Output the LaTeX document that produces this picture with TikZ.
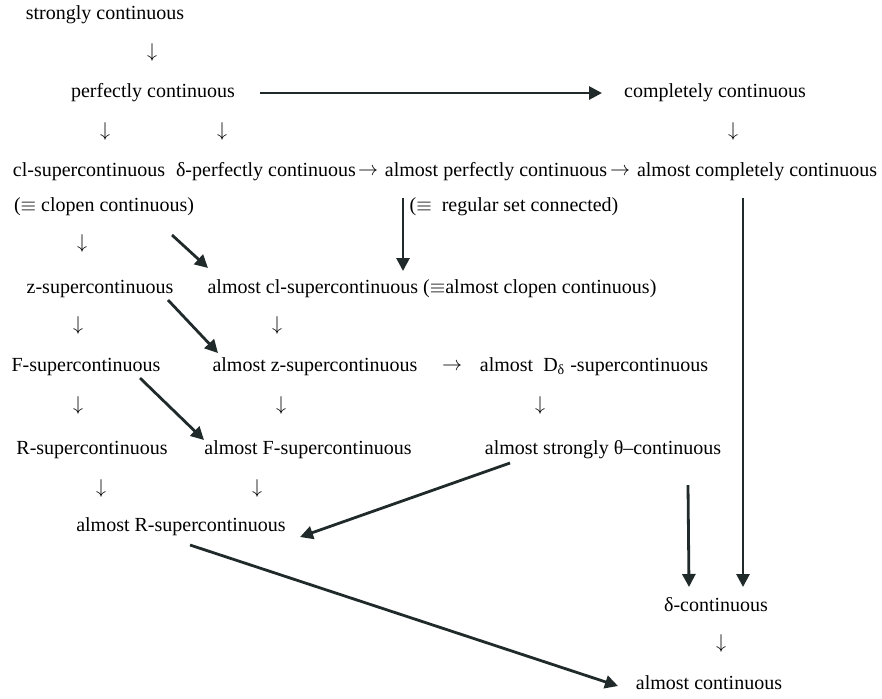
\documentclass[tikz,border=0pt]{standalone}
\usepackage{fontspec}
\setmainfont{Liberation Serif}
\usetikzlibrary{arrows.meta, positioning, calc}
\definecolor{darkslate}{RGB}{32,42,42}

\begin{document}
\begin{tikzpicture}[x=0.5pt, y=-0.5pt,
      lbl/.style={inner sep=1pt, font=\fontsize{10}{12}\selectfont},
      tip/.style={inner sep=0pt, font=\fontsize{10}{12}\selectfont},
      arr/.style={-{Triangle[length=6.5pt, width=6.5pt]}, line width=1.4pt, darkslate}]
    \useasboundingbox (0,0) rectangle (882,698);
    % rows of the diagram
    \node[lbl] (sc) at (105,15) {strongly continuous};
    \node[lbl] (pc) at (153,93) {perfectly continuous}; \node[lbl] (cc) at (715,93) {completely continuous};
    \node[lbl] (clsc) at (89,172) {cl-supercontinuous}; \node[lbl] (dpc) at (266,172) {δ-perfectly continuous};
    \node[lbl] (apc) at (496,172) {almost perfectly continuous}; \node[lbl] (acc) at (757,172) {almost completely continuous};
    \node[lbl] (clop) at (104,207) {($\equiv$ clopen continuous)}; \node[lbl] (rsc) at (514,207) {($\equiv$~ regular set connected)};
    \node[lbl] (zsc) at (100,289) {z-supercontinuous}; \node[lbl] (acl) at (432,289) {almost cl-supercontinuous ($\equiv$almost clopen continuous)};
    \node[lbl] (fsc) at (86,367) {F-supercontinuous}; \node[lbl] (azsc) at (315,367) {almost z-supercontinuous};
    \node[lbl] (adsc) at (594,367) {almost~ D\textsubscript{δ} -supercontinuous};
    \node[lbl] (rsc2) at (92,450) {R-supercontinuous}; \node[lbl] (afsc) at (308,450) {almost F-supercontinuous};
    \node[lbl] (ast) at (603,450) {almost strongly θ–continuous};
    \node[lbl] (arsc) at (181,527) {almost R-supercontinuous};
    \node[lbl] (dc) at (716,605) {δ-continuous};
    \node[lbl] (ac) at (709,683) {almost continuous};
    % small arrows set as glyphs
    \node[tip] (v1) at (152,52) {$\downarrow$};
    \node[tip] (v2) at (105,131) {$\downarrow$}; \node[tip] (v3) at (222,131) {$\downarrow$}; \node[tip] (v4) at (733,131) {$\downarrow$};
    \node[tip] (v5) at (82,243) {$\downarrow$};
    \node[tip] (v6) at (78,325) {$\downarrow$}; \node[tip] (v7) at (277,325) {$\downarrow$};
    \node[tip] (v8) at (78,405) {$\downarrow$}; \node[tip] (v9) at (281,405) {$\downarrow$}; \node[tip] (v10) at (540,405) {$\downarrow$};
    \node[tip] (v11) at (101,488) {$\downarrow$}; \node[tip] (v12) at (257,488) {$\downarrow$};
    \node[tip] (v13) at (721,643) {$\downarrow$};
    \node[tip] (h1) at (368,172) {$\rightarrow$}; \node[tip] (h2) at (620,172) {$\rightarrow$};
    \node[tip] (h3) at (452,367) {$\rightarrow$};
    % thick arrows
    \draw[arr] ($(pc)+(107,0)$) -- ($(cc)+(-113,0)$);
    \draw[arr] ($(apc)+(-93,26)$) -- ($(acl)+(-29,-18)$);
    \draw[arr] ($(acc)+(-14,26)$) -- ($(dc)+(27,-18)$);
    \draw[arr] ($(clop)+(68,28)$) -- ($(acl)+(-224,-21)$);
    \draw[arr] ($(zsc)+(68,11)$) -- ($(azsc)+(-97,-14)$);
    \draw[arr] ($(fsc)+(54,11)$) -- ($(afsc)+(-104,-10)$);
    \draw[arr] ($(ast)+(-93,13)$) -- ($(arsc)+(119,10)$);
    \draw[arr] ($(ast)+(85,35)$) -- ($(dc)+(-27,-18)$);
    \draw[arr] ($(arsc)+(9,18)$) -- ($(ac)+(-91,3)$);
\end{tikzpicture}
\end{document}
